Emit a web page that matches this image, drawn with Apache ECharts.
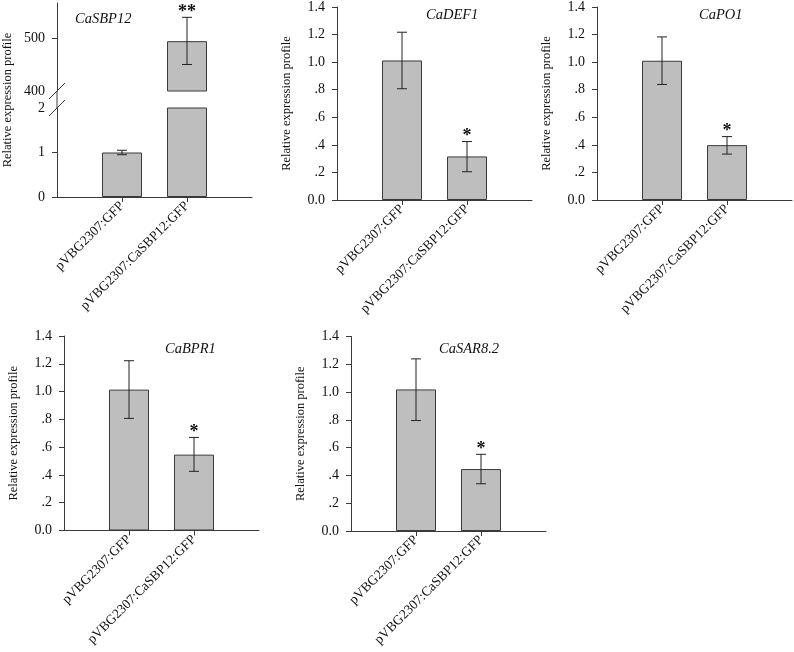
<!DOCTYPE html>
<html>
<head>
<meta charset="utf-8">
<script src="https://cdn.jsdelivr.net/npm/echarts@6/dist/echarts.min.js"></script>
<style>
  html, body { margin: 0; padding: 0; background: #fff; }
  #chart { width: 794px; height: 652px; }
</style>
</head>
<body>
<div id="chart"></div>
<script>
// x categories shared by every panel
const categories = ['pVBG2307:GFP', 'pVBG2307:CaSBP12:GFP'];
const yName = 'Relative expression profile';
const yTickLabels = ['0.0', '.2', '.4', '.6', '.8', '1.0', '1.2', '1.4'];

// CaSBP12 (broken axis)
const sbp12Mean = [1.0, 494];
const sbp12Low = [0.95, 450];
const sbp12High = [1.05, 539];
const sbp12Sig = ['', '**'];
const sbp12LowerLabels = [0, 1, 2];
const sbp12UpperLabels = [400, 500];

// CaDEF1
const def1Mean = [1.012, 0.316];
const def1Low = [0.807, 0.205];
const def1High = [1.217, 0.424];
const def1Sig = ['', '*'];

// CaPO1
const po1Mean = [1.01, 0.398];
const po1Low = [0.838, 0.333];
const po1High = [1.183, 0.46];
const po1Sig = ['', '*'];

// CaBPR1
const bpr1Mean = [1.014, 0.546];
const bpr1Low = [0.807, 0.426];
const bpr1High = [1.222, 0.67];
const bpr1Sig = ['', '*'];

// CaSAR8.2
const sar82Mean = [1.019, 0.446];
const sar82Low = [0.795, 0.34];
const sar82High = [1.239, 0.552];
const sar82Sig = ['', '*'];

const FONT = '"Liberation Serif", "DejaVu Serif", serif';
const LINE = '#3a3a3a';
const BAR = '#bebebe';

const chart = echarts.init(document.getElementById('chart'));

const tickLabelStyle = { margin: 12, fontFamily: FONT, fontSize: 14, color: '#111' };

function xAxisFor(gridIndex, show) {
  return {
    type: 'value', gridIndex, min: 0, max: 3, show,
    axisLine: { show: true, lineStyle: { color: LINE, width: 1 } },
    axisTick: { show: true, length: 5, customValues: [1, 2], lineStyle: { color: LINE } },
    axisLabel: {
      customValues: [1, 2], rotate: 45, margin: 7,
      formatter: (v) => categories[v - 1] || '',
      fontFamily: FONT, fontSize: 13.5, color: '#111'
    },
    splitLine: { show: false }
  };
}

function yAxisFor(gridIndex, opts) {
  return Object.assign({
    type: 'value', gridIndex,
    axisLine: { show: true, lineStyle: { color: LINE, width: 1 } },
    axisTick: { show: true, length: 5, lineStyle: { color: LINE } },
    axisLabel: tickLabelStyle,
    splitLine: { show: false },
    nameLocation: 'middle', nameGap: 44,
    nameTextStyle: { fontFamily: FONT, fontSize: 12.5, color: '#111' }
  }, opts);
}

function barSeries(gridIndex, mean, keep) {
  return {
    type: 'bar', xAxisIndex: gridIndex, yAxisIndex: gridIndex,
    barWidth: 40, silent: true, z: 2,
    itemStyle: { color: BAR, borderColor: LINE, borderWidth: 1 },
    data: mean.map((v, i) => [i + 1, v]).filter((d, i) => keep(i))
  };
}

function errSeries(gridIndex, low, high, sig, keep) {
  return {
    type: 'custom', xAxisIndex: gridIndex, yAxisIndex: gridIndex, silent: true, z: 10,
    data: low.map((v, i) => [i + 1, v, high[i]]).filter((d, i) => keep(i)),
    renderItem: (params, api) => {
      const x = api.value(0);
      const lo = api.coord([x, api.value(1)]);
      const hi = api.coord([x, api.value(2)]);
      const cap = 5;
      const ls = { stroke: '#222', lineWidth: 1 };
      return {
        type: 'group',
        children: [
          { type: 'line', z2: 10, shape: { x1: lo[0], y1: lo[1], x2: hi[0], y2: hi[1] }, style: ls },
          { type: 'line', z2: 10, shape: { x1: hi[0] - cap, y1: hi[1], x2: hi[0] + cap, y2: hi[1] }, style: ls },
          { type: 'line', z2: 10, shape: { x1: lo[0] - cap, y1: lo[1], x2: lo[0] + cap, y2: lo[1] }, style: ls },
          {
            type: 'text', z2: 10,
            style: {
              text: sig[x - 1], x: hi[0], y: hi[1] - 5,
              align: 'center', verticalAlign: 'middle',
              font: 'bold 18px ' + FONT, fill: '#111'
            }
          }
        ]
      };
    }
  };
}

// panels with the ordinary 0 - 1.4 scale
const panels = [
  { name: 'CaDEF1', mean: def1Mean, low: def1Low, high: def1High, sig: def1Sig, left: 337, top: 5.5, tx: 426, ty: 8 },
  { name: 'CaPO1', mean: po1Mean, low: po1Low, high: po1High, sig: po1Sig, left: 597, top: 5.5, tx: 699, ty: 8 },
  { name: 'CaBPR1', mean: bpr1Mean, low: bpr1Low, high: bpr1High, sig: bpr1Sig, left: 64, top: 336, tx: 165, ty: 342 },
  { name: 'CaSAR8.2', mean: sar82Mean, low: sar82Low, high: sar82High, sig: sar82Sig, left: 351, top: 336.5, tx: 439, ty: 342 }
];

const breakMin = 400;
const all = () => true;

const grid = [
  { left: 57, top: 3, width: 195, height: 88 },    // CaSBP12 upper
  { left: 57, top: 108, width: 195, height: 89 },  // CaSBP12 lower
  { left: 57, top: 3, width: 195, height: 194 }    // CaSBP12 axis name holder
];
const xAxis = [xAxisFor(0, false), xAxisFor(1, true), xAxisFor(2, false)];
const yAxis = [
  yAxisFor(0, {
    min: breakMin, max: 566,
    axisTick: { show: true, length: 5, customValues: [500], lineStyle: { color: LINE } },
    axisLabel: Object.assign({ customValues: sbp12UpperLabels }, tickLabelStyle)
  }),
  yAxisFor(1, {
    min: 0, max: 2,
    axisTick: { show: true, length: 5, customValues: [0, 1], lineStyle: { color: LINE } },
    axisLabel: Object.assign({ customValues: sbp12LowerLabels }, tickLabelStyle)
  }),
  yAxisFor(2, {
    min: 0, max: 1, name: yName,
    axisLine: { show: false }, axisTick: { show: false }, axisLabel: { show: false }
  })
];
const series = [
  barSeries(0, sbp12Mean, (i) => sbp12Mean[i] >= breakMin),
  errSeries(0, sbp12Low, sbp12High, sbp12Sig, (i) => sbp12Low[i] >= breakMin),
  barSeries(1, sbp12Mean, all),
  errSeries(1, sbp12Low, sbp12High, sbp12Sig, (i) => sbp12High[i] <= 2)
];
const titleStyle = { fontFamily: FONT, fontStyle: 'italic', fontWeight: 'normal', fontSize: 14.5, color: '#111' };
const title = [{ text: 'CaSBP12', left: 75, top: 12, padding: 0, textStyle: titleStyle }];

panels.forEach((p) => {
  const g = grid.length;
  grid.push({ left: p.left, top: p.top, width: 195, height: 194.5 });
  xAxis.push(xAxisFor(g, true));
  yAxis.push(yAxisFor(g, {
    min: 0, max: 1.4, interval: 0.2, name: yName,
    axisLabel: Object.assign({ formatter: (v) => yTickLabels[Math.round(v / 0.2)] }, tickLabelStyle)
  }));
  series.push(barSeries(g, p.mean, all));
  series.push(errSeries(g, p.low, p.high, p.sig, all));
  title.push({ text: p.name, left: p.tx, top: p.ty, padding: 0, textStyle: titleStyle });
});

chart.setOption({
  animation: false,
  backgroundColor: '#fff',
  title, grid, xAxis, yAxis, series
});

// axis break marks for CaSBP12
const pTop = chart.convertToPixel({ gridIndex: 0 }, [0, breakMin]);
const pBot = chart.convertToPixel({ gridIndex: 1 }, [0, 2]);
const slash = (c) => ({
  type: 'line', silent: true,
  shape: { x1: c[0] - 8, y1: c[1] + 8, x2: c[0] + 8, y2: c[1] - 8 },
  style: { stroke: LINE, lineWidth: 1 }
});
chart.setOption({
  graphic: [
    { type: 'line', silent: true, shape: { x1: pTop[0], y1: pTop[1], x2: pBot[0], y2: pBot[1] }, style: { stroke: LINE, lineWidth: 1 } },
    slash(pTop),
    slash(pBot)
  ]
});
</script>
</body>
</html>
